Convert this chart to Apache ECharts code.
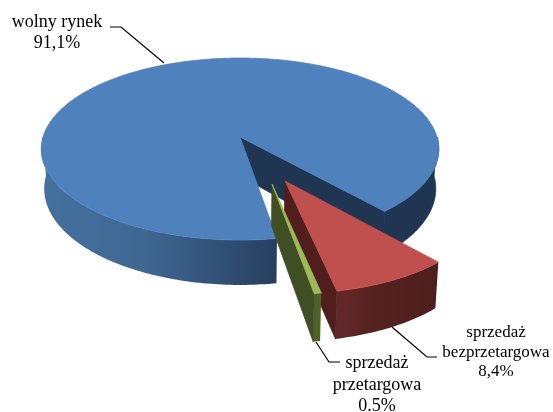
<!DOCTYPE html>
<html><head><meta charset="utf-8">
<script src="https://cdn.jsdelivr.net/npm/echarts@6/dist/echarts.min.js"></script>
<style>html,body{margin:0;padding:0;background:#fff}#c{width:553px;height:412px}</style>
</head><body><div id="c"></div>
<script>
// ---- data ----
const categories = ['wolny rynek', 'sprzedaż\nbezprzetargowa', 'sprzedaż\nprzetargowa'];
const shares = [91.1, 8.4, 0.5];
const shareLabels = ['91,1%', '8,4%', '0.5%'];

// ---- look ----
const topColors = ['#4F81BD', '#C0504D', '#9BBB59'];
const cutColors = ['#1F3552', '#4F1E1D', '#3F4F23'];
const sideStops = [
  [[0, '#44709F'], [0.45, '#3F6792'], [1, '#263F5F']],
  [[0, '#64292A'], [0.4, '#55221F'], [1, '#4D1E1D']],
  [[0, '#4F6228'], [1, '#4F6228']]
];
const explodeU = [0, 0.2145, 0.152], explodeV = [0, 0.462, 0.4916], radii = [1, 0.96, 0.944];
const labelPos = [[57, 32.5], [496, 352.5], [377, 385]];
const labelSize = [18, 17, 18], labelLead = [21, 19.5, 21.5];
const leaders = [
  [[110, 27], [121, 27], [164, 63]],
  [[392, 327], [427, 357], [437, 357]],
  [[316, 342], [329, 362], [340, 362]]
];
const cx = 240, cy = 137, R = 197, Q = 89.4, P = 0.132, H = 39, bottomX = 0.985;
const firstAngle = 80.6;
const total = shares.reduce((a, b) => a + b, 0);

function proj(u, v, low) {
  const w = 1 - P * v;
  const s = low ? bottomX : 1;
  return [cx + s * R * u / w, cy + (Q * v + (low ? H : 0)) / w];
}
function poly(points, fill) {
  const solid = !fill.colorStops;
  return { type: 'polygon', shape: { points }, style: { fill, stroke: solid ? fill : null, lineWidth: solid ? 0.8 : 0 } };
}
function grad(stops) {
  return { type: 'linear', x: 0, y: 0, x2: 1, y2: 0, colorStops: stops.map(s => ({ offset: s[0], color: s[1] })) };
}

function renderItem(params, api) {
  const i = params.dataIndex;
  const val = api.value(0);
  let before = 0;
  for (let k = 0; k < i; k++) before += shares[k];
  const a0 = firstAngle + before / total * 360;
  const a1 = a0 + val / total * 360;
  const ox = explodeU[i], oy = explodeV[i], r = radii[i];
  const pt = (deg, low) => {
    const t = deg * Math.PI / 180;
    return proj(ox + r * Math.cos(t), oy + r * Math.sin(t), low);
  };
  const arc = (from, to, low) => {
    const out = [], n = Math.max(2, Math.ceil(Math.abs(to - from)));
    for (let k = 0; k <= n; k++) out.push(pt(from + (to - from) * k / n, low));
    return out;
  };
  const apex = proj(ox, oy, false), apexLow = proj(ox, oy, true);
  const children = [];
  const wall = (from, to, fill) => {
    if (to <= from) return;
    children.push(poly(arc(from, to, false).concat(arc(to, from, true)), fill));
  };
  if (i === 0) {
    // near-left wall: from the cut to the left extreme; near-right wall: dark, continuous with the cut face
    wall(a0, 180, grad(sideStops[0]));
    const end = pt(a1, false), endLow = pt(a1, true);
    children.push(poly(arc(360, a1, false).concat(arc(a1, 360, true)), cutColors[0]));
    children.push(poly([apex, end, endLow, apexLow], cutColors[0]));
  } else {
    const e = pt(a1, false), eLow = pt(a1, true);
    wall(a0, a1, grad(sideStops[i]));
    children.push(poly([apex, e, eLow, apexLow], cutColors[i]));
  }
  children.push(poly([apex].concat(arc(a0, a1, false)), topColors[i]));
  children.push({ type: 'polyline', shape: { points: leaders[i] }, style: { fill: null, stroke: '#000', lineWidth: 1.2 } });
  const lp = labelPos[i];
  children.push({
    type: 'text', x: lp[0], y: lp[1],
    style: {
      text: api.value(1), fill: '#000',
      font: labelSize[i] + 'px "Liberation Serif", "Times New Roman", serif',
      align: 'center', verticalAlign: 'middle', lineHeight: labelLead[i]
    }
  });
  return { type: 'group', children };
}

const chart = echarts.init(document.getElementById('c'), null, { renderer: 'canvas' });
chart.setOption({
  animation: false,
  backgroundColor: '#fff',
  series: [{
    type: 'custom',
    coordinateSystem: 'none',
    silent: true,
    renderItem,
    dimensions: [{ name: 'share', type: 'number' }, { name: 'label', type: 'ordinal' }],
    data: shares.map((v, i) => [v, categories[i] + '\n' + shareLabels[i]])
  }]
});
</script></body></html>
